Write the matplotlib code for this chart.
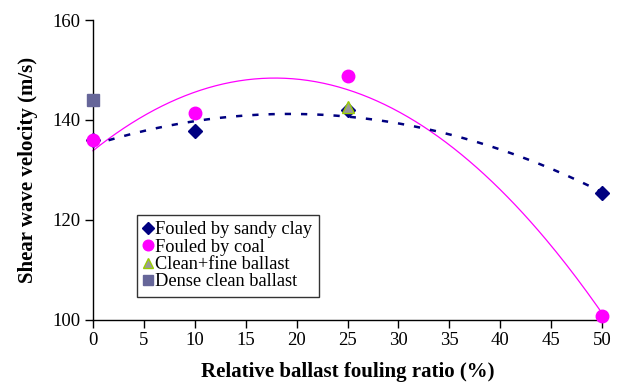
import matplotlib
matplotlib.use("Agg")
import matplotlib.pyplot as plt
import numpy as np

plt.rcParams["font.family"] = ["Liberation Serif", "DejaVu Serif"]

# values
x_clay = [0, 10, 25, 50]
v_clay = [136.0, 137.7, 142.0, 125.3]
x_coal = [0, 10, 25, 50]
v_coal = [135.9, 141.3, 148.8, 100.8]
x_fine = [25]
v_fine = [142.6]
x_dense = [0]
v_dense = [143.9]

fig = plt.figure(figsize=(6.24, 3.85), dpi=100)
ax = fig.add_axes([0.149, 0.169, 0.816, 0.779])

# second order trend lines, as in the spreadsheet
xs = np.linspace(0, 50, 200)
p_clay = np.polyfit(x_clay, v_clay, 2)
p_coal = np.polyfit(x_coal, v_coal, 2)
ax.plot(xs, np.polyval(p_coal, xs), color="#ff00ff", lw=0.9, zorder=2)
ax.plot(xs, np.polyval(p_clay, xs), color="#000080", lw=1.8,
        linestyle=(0, (2.5, 4.0)), zorder=2)

ax.plot(x_clay, v_clay, "D", color="#000080", ms=7.5, ls="none",
        label="Fouled by sandy clay", zorder=3)
ax.plot(x_coal, v_coal, "o", color="#ff00ff", ms=9, ls="none",
        label="Fouled by coal", zorder=4)
ax.plot(x_fine, v_fine, "^", color="#999999", mec="#99cc00", mew=1.0, ms=9,
        ls="none", label="Clean+fine ballast", zorder=5)
ax.plot(x_dense, v_dense, "s", color="#666699", ms=8, ls="none",
        label="Dense clean ballast", zorder=5)

ax.set_xlim(0, 50)
ax.set_ylim(100, 160)
ax.set_xticks(range(0, 51, 5))
ax.set_yticks([100, 120, 140, 160])
ax.tick_params(labelsize=13.5, direction="out", length=6, width=1, pad=3)
for s in ["top", "right"]:
    ax.spines[s].set_visible(False)
for s in ["left", "bottom"]:
    ax.spines[s].set_linewidth(1)
for ln in ax.lines:
    ln.set_clip_on(False)

ax.set_xlabel("Relative ballast fouling ratio (%)", fontsize=15,
              fontweight="bold", labelpad=9)
ax.set_ylabel("Shear wave velocity (m/s)", fontsize=15, fontweight="bold",
              labelpad=10)

leg = ax.legend(loc="lower left", bbox_to_anchor=(0.086, 0.077),
                borderaxespad=0, fontsize=13.2, frameon=True, fancybox=False,
                handlelength=0.5, handletextpad=0.15, labelspacing=0.02,
                borderpad=0.35, edgecolor="black", markerscale=0.85)
leg.get_frame().set_linewidth(1)

fig.savefig("out.png", dpi=100)
